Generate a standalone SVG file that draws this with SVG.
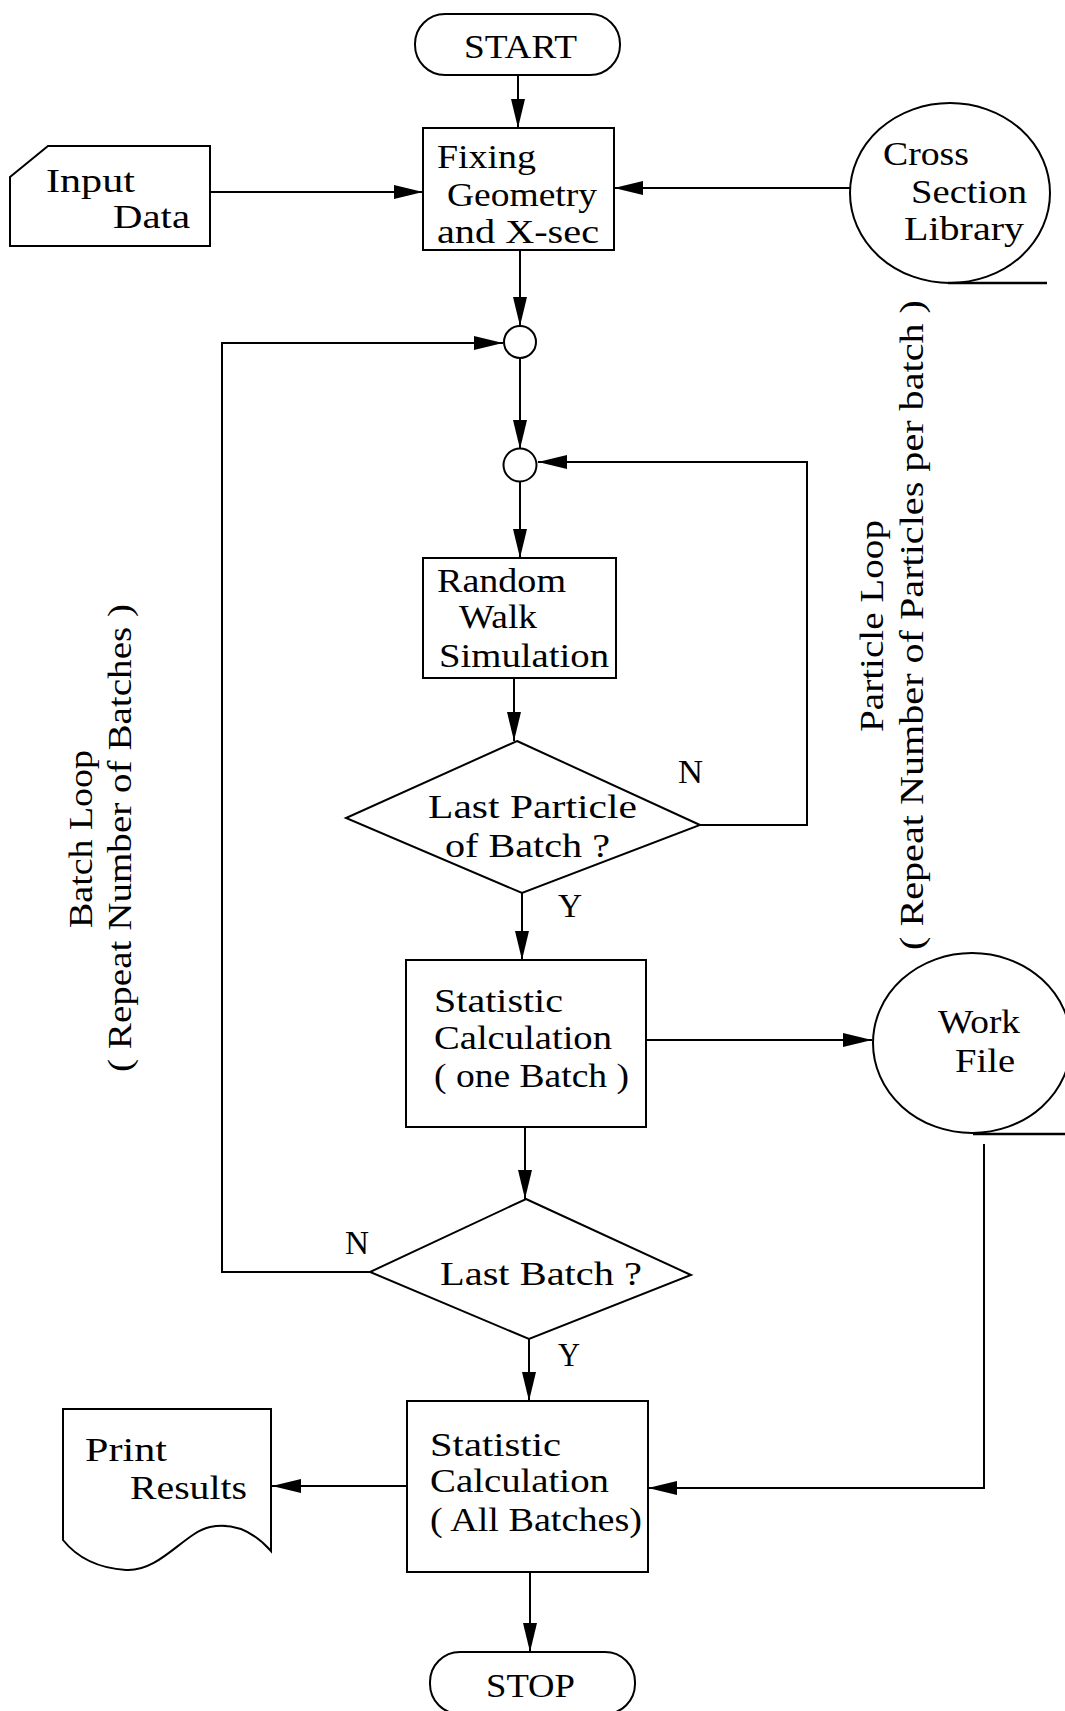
<svg xmlns="http://www.w3.org/2000/svg" width="1065" height="1711" viewBox="0 0 1065 1711">
  <style>
    .shape { fill: #fff; stroke: #000; stroke-width: 2; }
    .thin { fill: none; stroke: #000; stroke-width: 2; }
    .edge { fill: none; stroke: #000; stroke-width: 2; marker-end: url(#arrow); }
    .t { font-family: "Liberation Serif", "Times New Roman", serif; font-size: 33px; fill: #000; }
  </style>
  <defs>
    <marker id="arrow" markerUnits="userSpaceOnUse" markerWidth="30" markerHeight="16" refX="29" refY="7" orient="auto">
      <path d="M0,0 L29,7 L0,14 Z" fill="#000"/>
    </marker>
  </defs>
  <rect width="1065" height="1711" fill="#fff"/>

  <!-- connectors -->
  <g id="connectors">
    <path class="edge" d="M518,75 V128"/>
    <path class="edge" d="M210,192 H423"/>
    <path class="edge" d="M850,188 H614"/>
    <path class="edge" d="M520,250 V326"/>
    <path class="edge" d="M520,358 V449"/>
    <path class="edge" d="M520,482 V558"/>
    <path class="edge" d="M514,678 V741"/>
    <path class="edge" d="M700,825 H807 V462 H538"/>
    <path class="edge" d="M522,893 V960"/>
    <path class="edge" d="M646,1040 H872"/>
    <path class="edge" d="M525,1127 V1199"/>
    <path class="edge" d="M370,1272 H222 V343 H503"/>
    <path class="edge" d="M529,1339 V1401"/>
    <path class="edge" d="M984,1144 V1488 H648"/>
    <path class="edge" d="M407,1486 H272"/>
    <path class="edge" d="M530,1572 V1652"/>
  </g>

  <!-- start terminal -->
  <g id="start">
    <rect class="shape" x="415" y="14" width="205" height="61" rx="30" ry="30"/>
    <text class="t" x="464" y="58" textLength="113" lengthAdjust="spacingAndGlyphs">START</text>
  </g>

  <!-- input card -->
  <g id="input-data">
    <path class="shape" d="M10,177 L48,146 H210 V246 H10 Z"/>
    <text class="t" x="46" y="192" textLength="89" lengthAdjust="spacingAndGlyphs">Input</text>
    <text class="t" x="113" y="228" textLength="77" lengthAdjust="spacingAndGlyphs">Data</text>
  </g>

  <!-- geometry setup -->
  <g id="fixing">
    <rect class="shape" x="423" y="128" width="191" height="122"/>
    <text class="t" x="437" y="168" textLength="99" lengthAdjust="spacingAndGlyphs">Fixing</text>
    <text class="t" x="447" y="206" textLength="150" lengthAdjust="spacingAndGlyphs">Geometry</text>
    <text class="t" x="437" y="243" textLength="162" lengthAdjust="spacingAndGlyphs">and X-sec</text>
  </g>

  <!-- cross section tape -->
  <g id="cross-section">
    <ellipse class="shape" cx="950" cy="193" rx="100" ry="90"/>
    <path class="thin" d="M948,283 H1047" style="stroke-width:2.5"/>
    <text class="t" x="883" y="165" textLength="86" lengthAdjust="spacingAndGlyphs">Cross</text>
    <text class="t" x="911" y="203" textLength="116" lengthAdjust="spacingAndGlyphs">Section</text>
    <text class="t" x="904" y="240" textLength="120" lengthAdjust="spacingAndGlyphs">Library</text>
  </g>

  <!-- loop junctions -->
  <g id="junction-batch">
    <circle class="shape" cx="520" cy="342" r="16"/>
  </g>
  <g id="junction-particle">
    <circle class="shape" cx="520" cy="465" r="16.5"/>
  </g>

  <!-- random walk -->
  <g id="random-walk">
    <rect class="shape" x="423" y="558" width="193" height="120"/>
    <text class="t" x="437" y="592" textLength="129" lengthAdjust="spacingAndGlyphs">Random</text>
    <text class="t" x="459" y="628" textLength="78" lengthAdjust="spacingAndGlyphs">Walk</text>
    <text class="t" x="439" y="667" textLength="170" lengthAdjust="spacingAndGlyphs">Simulation</text>
  </g>

  <!-- last particle decision -->
  <g id="last-particle">
    <path class="shape" d="M517,741 L700,825 L522,893 L346,818 Z"/>
    <text class="t" x="428" y="818" textLength="209" lengthAdjust="spacingAndGlyphs">Last Particle</text>
    <text class="t" x="445" y="857" textLength="165" lengthAdjust="spacingAndGlyphs">of Batch ?</text>
    <text class="t" x="678" y="783" textLength="25" lengthAdjust="spacingAndGlyphs">N</text>
    <text class="t" x="558" y="917" textLength="24" lengthAdjust="spacingAndGlyphs">Y</text>
  </g>

  <!-- per-batch statistics -->
  <g id="stat-batch">
    <rect class="shape" x="406" y="960" width="240" height="167"/>
    <text class="t" x="434" y="1012" textLength="129" lengthAdjust="spacingAndGlyphs">Statistic</text>
    <text class="t" x="434" y="1049" textLength="178" lengthAdjust="spacingAndGlyphs">Calculation</text>
    <text class="t" x="434" y="1087" textLength="195" lengthAdjust="spacingAndGlyphs">( one Batch )</text>
  </g>

  <!-- work file tape -->
  <g id="work-file">
    <ellipse class="shape" cx="972" cy="1043" rx="99" ry="90"/>
    <path class="thin" d="M973,1134 H1065" style="stroke-width:2.5"/>
    <text class="t" x="938" y="1033" textLength="82" lengthAdjust="spacingAndGlyphs">Work</text>
    <text class="t" x="955" y="1072" textLength="60" lengthAdjust="spacingAndGlyphs">File</text>
  </g>

  <!-- last batch decision -->
  <g id="last-batch">
    <path class="shape" d="M526,1199 L691,1275 L529,1339 L370,1272 Z"/>
    <text class="t" x="440" y="1285" textLength="202" lengthAdjust="spacingAndGlyphs">Last Batch ?</text>
    <text class="t" x="345" y="1254" textLength="24" lengthAdjust="spacingAndGlyphs">N</text>
    <text class="t" x="558" y="1366" textLength="22" lengthAdjust="spacingAndGlyphs">Y</text>
  </g>

  <!-- overall statistics -->
  <g id="stat-all">
    <rect class="shape" x="407" y="1401" width="241" height="171"/>
    <text class="t" x="430" y="1456" textLength="131" lengthAdjust="spacingAndGlyphs">Statistic</text>
    <text class="t" x="430" y="1492" textLength="179" lengthAdjust="spacingAndGlyphs">Calculation</text>
    <text class="t" x="430" y="1531" textLength="212" lengthAdjust="spacingAndGlyphs">( All Batches)</text>
  </g>

  <!-- printed report -->
  <g id="print-results">
    <path class="shape" d="M63,1409 H271 V1551 C255,1533 235,1522 210,1527 C185,1532 160,1572 126,1570 C95,1568 75,1555 63,1540 Z"/>
    <text class="t" x="85" y="1461" textLength="82" lengthAdjust="spacingAndGlyphs">Print</text>
    <text class="t" x="130" y="1499" textLength="117" lengthAdjust="spacingAndGlyphs">Results</text>
  </g>

  <!-- stop terminal -->
  <g id="stop">
    <rect class="shape" x="430" y="1652" width="205" height="62" rx="30" ry="30"/>
    <text class="t" x="486" y="1697" textLength="89" lengthAdjust="spacingAndGlyphs">STOP</text>
  </g>

  <!-- loop labels -->
  <g id="batch-loop-label">
    <text class="t" transform="translate(92,928) rotate(-90)" textLength="178" lengthAdjust="spacingAndGlyphs">Batch Loop</text>
    <text class="t" transform="translate(131,1072) rotate(-90)" textLength="468" lengthAdjust="spacingAndGlyphs">( Repeat Number of Batches )</text>
  </g>
  <g id="particle-loop-label">
    <text class="t" transform="translate(883,732) rotate(-90)" textLength="212" lengthAdjust="spacingAndGlyphs">Particle Loop</text>
    <text class="t" transform="translate(923,950) rotate(-90)" textLength="650" lengthAdjust="spacingAndGlyphs">( Repeat Number of Particles per batch )</text>
  </g>
</svg>
